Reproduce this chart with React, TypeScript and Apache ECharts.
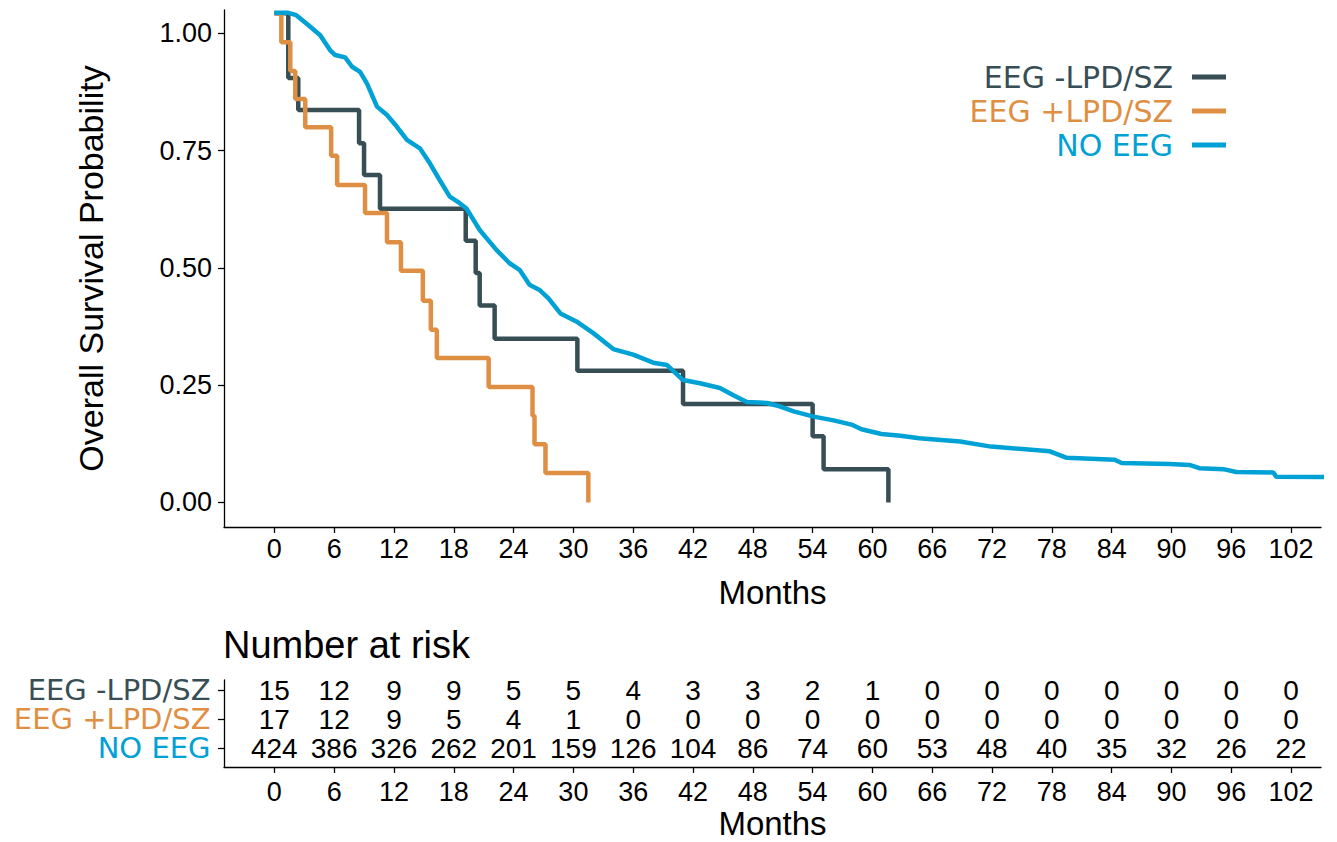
import React, { useEffect, useRef } from "react";
import * as echarts from "echarts";

// ---------- data ----------
const groups = ["EEG -LPD/SZ", "EEG +LPD/SZ", "NO EEG"];
const groupColors = ["#374E55", "#DF8F44", "#00A1D5"];

const tickMonths = [0, 6, 12, 18, 24, 30, 36, 42, 48, 54, 60, 66, 72, 78, 84, 90, 96, 102];
const yTicks = [0, 0.25, 0.5, 0.75, 1.0];

// [month, survival]
const curveNeg: number[][] = [
  [0, 1.043], [1.4, 0.905], [2.4, 0.837], [8.5, 0.766], [9.0, 0.698], [10.6, 0.626],
  [19.2, 0.558], [20.2, 0.489], [20.6, 0.42], [22.1, 0.349], [30.4, 0.281], [41.0, 0.21],
  [54.0, 0.141], [55.1, 0.071], [61.6, 0.0],
];
const curvePos: number[][] = [
  [0, 1.043], [0.7, 0.981], [1.6, 0.92], [2.1, 0.86], [3.1, 0.8], [5.7, 0.739], [6.3, 0.677],
  [9.1, 0.617], [11.3, 0.555], [12.7, 0.494], [14.9, 0.43], [15.7, 0.368], [16.3, 0.308],
  [21.5, 0.246], [25.9, 0.185], [26.1, 0.124], [27.2, 0.063], [31.5, 0.0],
];
const curveNo: number[][] = [
  [0, 1.044], [1.4, 1.044], [2.2, 1.039], [3.4, 1.018], [4.6, 0.996], [5.6, 0.964], [6.1, 0.954],
  [7.1, 0.949], [7.8, 0.929], [8.6, 0.918], [9.3, 0.893], [10.3, 0.844], [11.3, 0.826],
  [12.3, 0.801], [13.3, 0.773], [14.6, 0.755], [15.6, 0.723], [16.6, 0.687], [17.6, 0.652],
  [18.6, 0.638], [19.3, 0.626], [20.6, 0.581], [22.3, 0.538], [23.6, 0.51], [24.6, 0.496],
  [25.6, 0.464], [26.6, 0.453], [27.5, 0.435], [28.7, 0.403], [30.3, 0.386], [32.0, 0.361],
  [34.0, 0.327], [36.0, 0.315], [38.0, 0.298], [39.4, 0.293], [41.0, 0.261], [42.7, 0.254],
  [44.7, 0.244], [46.0, 0.229], [47.4, 0.214], [49.4, 0.212], [50.7, 0.205], [52.1, 0.194],
  [54.1, 0.183], [56.1, 0.175], [57.9, 0.166], [58.9, 0.156], [60.9, 0.146], [62.8, 0.142],
  [64.7, 0.137], [68.8, 0.13], [71.9, 0.119], [77.8, 0.109], [79.5, 0.095], [84.3, 0.091],
  [85.0, 0.084], [89.8, 0.082], [91.8, 0.08], [92.8, 0.073], [95.2, 0.071], [96.5, 0.065],
  [100.2, 0.064], [100.5, 0.055], [105.7, 0.054],
];

const riskNeg = [15, 12, 9, 9, 5, 5, 4, 3, 3, 2, 1, 0, 0, 0, 0, 0, 0, 0];
const riskPos = [17, 12, 9, 5, 4, 1, 0, 0, 0, 0, 0, 0, 0, 0, 0, 0, 0, 0];
const riskNo = [424, 386, 326, 262, 201, 159, 126, 104, 86, 74, 60, 53, 48, 40, 35, 32, 26, 22];

// axis ranges
const X_MIN = -5.05;
const X_MAX = 105;

// ---------- styling ----------
const SANS = '"Liberation Sans", Arial, sans-serif';
const DEJAVU = '"DejaVu Sans", Verdana, sans-serif';

export default function App() {
  const ref = useRef<HTMLDivElement>(null);

  useEffect(() => {
    const chart = echarts.init(ref.current!, null, { renderer: "svg" });

    const riskRows = [riskNeg, riskPos, riskNo];
    const riskData: any[] = [];
    riskRows.forEach((row, gi) => {
      row.forEach((n, i) => riskData.push([tickMonths[i], 3 - gi, n]));
    });
    const rowLabelData = groups.map((g, gi) => ({
      value: [X_MIN, 3 - gi],
      name: g,
      label: { color: groupColors[gi] },
    }));

    const axisLineStyle = { color: "#000", width: 1.3 };
    const hiddenItem = { color: "rgba(0,0,0,0)", opacity: 1 };

    const option: any = {
      animation: false,
      backgroundColor: "#fff",
      title: {
        text: "Number at risk",
        left: 223,
        top: 626,
        padding: 0,
        textStyle: { fontFamily: SANS, fontSize: 38, fontWeight: "normal", color: "#000" },
      },
      legend: {
        orient: "vertical",
        right: 111,
        top: 60,
        padding: 0,
        align: "right",
        icon: "rect",
        itemWidth: 34,
        itemHeight: 5,
        itemGap: 0,
        selectedMode: false,
        textStyle: { fontFamily: DEJAVU, fontSize: 30, lineHeight: 34, padding: [0, 14, 0, 0] },
        data: groups.map((g, i) => ({ name: g, textStyle: { color: groupColors[i] } })),
      },
      grid: [
        { left: 224, top: 10, width: 1097, height: 517 },
        { left: 224, top: 680, width: 1097, height: 87 },
      ],
      xAxis: [
        {
          gridIndex: 0,
          type: "value",
          min: X_MIN,
          max: X_MAX,
          splitLine: { show: false },
          axisLine: { show: true, onZero: false, lineStyle: axisLineStyle },
          axisTick: { show: true, length: 6, customValues: tickMonths, lineStyle: axisLineStyle },
          axisLabel: { customValues: tickMonths, fontFamily: SANS, fontSize: 27, color: "#000", margin: 8 },
          name: "Months",
          nameLocation: "middle",
          nameGap: 49,
          nameTextStyle: { fontFamily: SANS, fontSize: 33, color: "#000" },
        },
        {
          gridIndex: 1,
          type: "value",
          min: X_MIN,
          max: X_MAX,
          splitLine: { show: false },
          axisLine: { show: true, onZero: false, lineStyle: axisLineStyle },
          axisTick: { show: true, length: 6, customValues: tickMonths, lineStyle: axisLineStyle },
          axisLabel: { customValues: tickMonths, fontFamily: SANS, fontSize: 27, color: "#000", margin: 11 },
          name: "Months",
          nameLocation: "middle",
          nameGap: 40,
          nameTextStyle: { fontFamily: SANS, fontSize: 33, color: "#000" },
        },
      ],
      yAxis: [
        {
          gridIndex: 0,
          type: "value",
          min: -0.0524,
          max: 1.05,
          splitLine: { show: false },
          axisLine: { show: true, onZero: false, lineStyle: axisLineStyle },
          axisTick: { show: true, length: 6, customValues: yTicks, lineStyle: axisLineStyle },
          axisLabel: {
            customValues: yTicks,
            formatter: (v: number) => v.toFixed(2),
            fontFamily: SANS,
            fontSize: 27,
            color: "#000",
            margin: 12,
          },
          name: "Overall Survival Probability",
          nameLocation: "middle",
          nameGap: 116,
          nameTextStyle: { fontFamily: SANS, fontSize: 34, color: "#000" },
        },
        {
          gridIndex: 1,
          type: "value",
          min: 0.345,
          max: 3.345,
          splitLine: { show: false },
          axisLine: { show: true, onZero: false, lineStyle: axisLineStyle },
          axisTick: { show: true, length: 6, customValues: [1, 2, 3], lineStyle: axisLineStyle },
          axisLabel: { show: false },
        },
      ],
      series: [
        {
          name: groups[0],
          type: "line",
          step: "end",
          data: curveNeg,
          symbol: "none",
          clip: false,
          color: groupColors[0],
          lineStyle: { width: 4.5, color: groupColors[0] },
        },
        {
          name: groups[1],
          type: "line",
          step: "end",
          data: curvePos,
          symbol: "none",
          clip: false,
          color: groupColors[1],
          lineStyle: { width: 4.5, color: groupColors[1] },
        },
        {
          name: groups[2],
          type: "line",
          data: curveNo,
          symbol: "none",
          clip: false,
          color: groupColors[2],
          lineStyle: { width: 4.5, color: groupColors[2] },
        },
        {
          type: "scatter",
          xAxisIndex: 1,
          yAxisIndex: 1,
          data: riskData,
          symbolSize: 1,
          itemStyle: hiddenItem,
          silent: true,
          label: {
            show: true,
            position: "inside",
            formatter: (p: any) => String(p.value[2]),
            fontFamily: SANS,
            fontSize: 28,
            color: "#000",
          },
        },
        {
          type: "scatter",
          xAxisIndex: 1,
          yAxisIndex: 1,
          data: rowLabelData,
          symbolSize: 1,
          clip: false,
          itemStyle: hiddenItem,
          silent: true,
          label: {
            show: true,
            position: "left",
            distance: 13,
            formatter: (p: any) => p.name,
            fontFamily: DEJAVU,
            fontSize: 29,
          },
        },
      ],
    };

    chart.setOption(option);
    return () => chart.dispose();
  }, []);

  return (
    <div
      ref={ref}
      style={{ position: "fixed", left: 0, top: 0, width: 1337, height: 842, background: "#fff" }}
    />
  );
}
